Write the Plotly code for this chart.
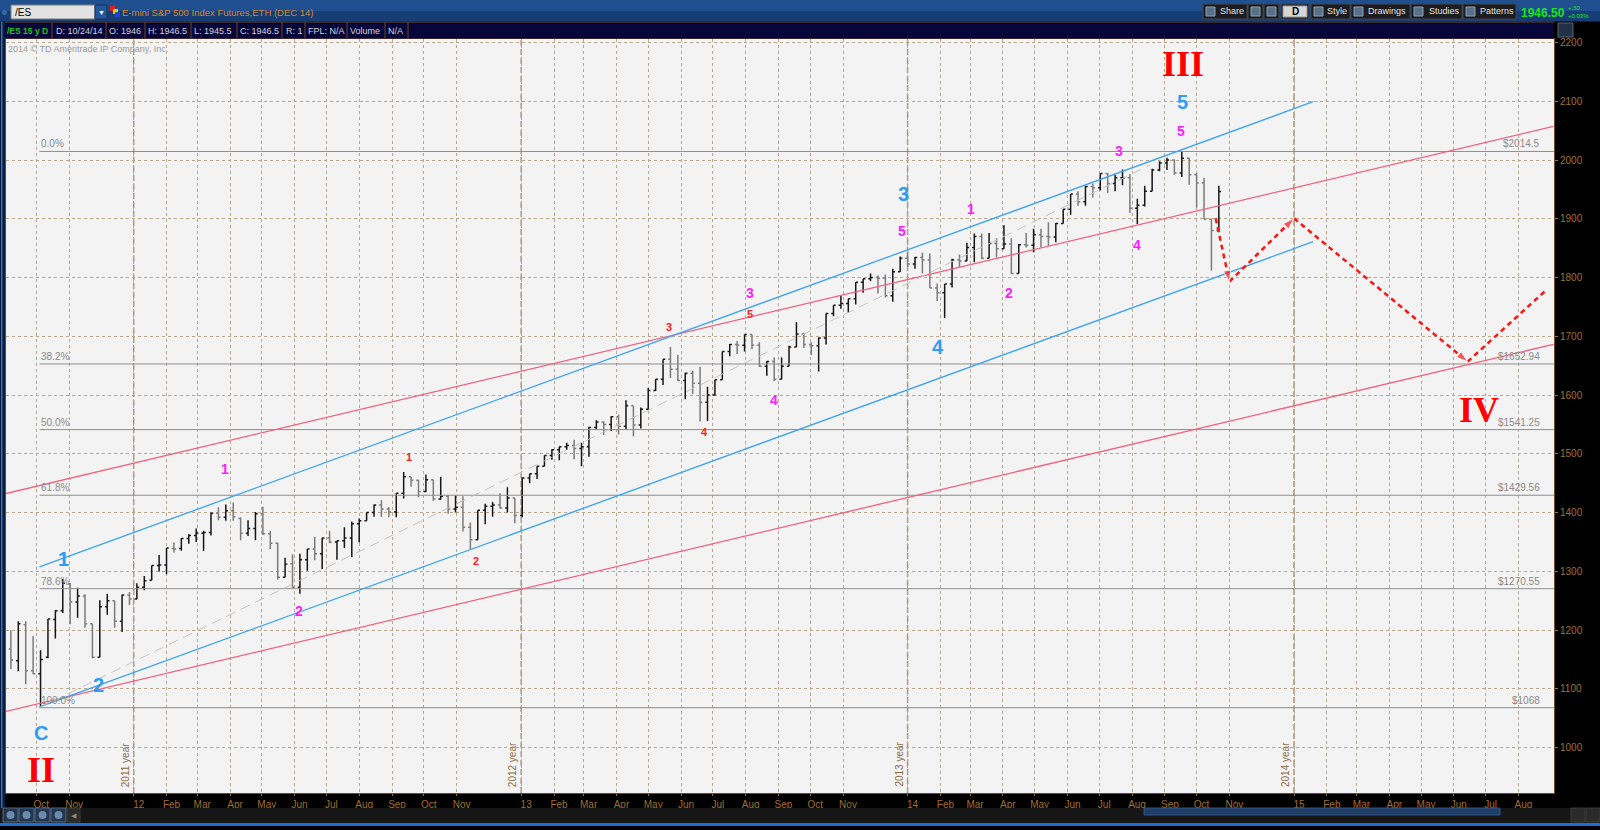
import pandas as pd
import plotly.graph_objects as go

# --- weekly bars (week starting Monday) ---
week_start = pd.date_range("2011-08-29", "2014-10-20", freq="W-MON")

bar_open = [
    1172, 1168, 1148, 1209, 1131, 1126, 1154, 1218, 1233, 1279, 1248, 1258, 1211, 1154, 1240, 1250, 1215, 1260,
    1253, 1273, 1285, 1310, 1311, 1339, 1339, 1356, 1361, 1365, 1366, 1399, 1392, 1403, 1390, 1365, 1373, 1398,
    1364, 1348, 1290, 1313, 1273, 1320, 1338, 1330, 1357, 1350, 1352, 1357, 1381, 1386, 1400, 1413, 1406, 1401,
    1433, 1461, 1455, 1436, 1456, 1423, 1428, 1406, 1409, 1375, 1354, 1404, 1411, 1413, 1408, 1425, 1395,
    1459, 1466, 1479, 1497, 1507, 1512, 1514, 1509, 1512, 1545, 1554, 1550, 1563, 1547, 1582, 1549, 1576,
    1608, 1627, 1661, 1644, 1625, 1637, 1620, 1588, 1600, 1626, 1674, 1686, 1685, 1703, 1685, 1649, 1657,
    1627, 1649, 1682, 1704, 1686, 1684, 1697, 1739, 1753, 1756, 1764, 1792, 1798, 1800, 1799, 1769, 1810, 1833,
    1823, 1834, 1830, 1782, 1774, 1789, 1830, 1828, 1851, 1870, 1833, 1858, 1849, 1857, 1807, 1856, 1855,
    1873, 1870, 1869, 1892, 1916, 1942, 1929, 1955, 1953, 1977, 1960, 1970, 1970, 1918, 1923, 1947, 1983,
    1995, 2000, 1978, 2003, 1975, 1961, 1899, 1880,
]
bar_high = [
    1225, 1200, 1215, 1215, 1190, 1166, 1219, 1234, 1287, 1280, 1272, 1261, 1211, 1251, 1262, 1250, 1260, 1265,
    1280, 1292, 1310, 1328, 1340, 1349, 1357, 1363, 1373, 1369, 1400, 1409, 1414, 1417, 1392, 1387, 1401, 1410,
    1369, 1349, 1323, 1329, 1330, 1338, 1359, 1357, 1369, 1352, 1375, 1385, 1390, 1400, 1414, 1421, 1409, 1433,
    1469, 1461, 1456, 1465, 1456, 1461, 1430, 1429, 1428, 1383, 1404, 1415, 1418, 1433, 1443, 1425, 1460,
    1466, 1479, 1497, 1508, 1512, 1519, 1524, 1519, 1546, 1557, 1555, 1564, 1567, 1591, 1582, 1579, 1612,
    1627, 1661, 1682, 1668, 1638, 1642, 1648, 1614, 1626, 1674, 1687, 1692, 1703, 1703, 1690, 1658, 1664,
    1664, 1684, 1724, 1706, 1690, 1698, 1739, 1753, 1769, 1764, 1792, 1798, 1807, 1804, 1805, 1815, 1836, 1843,
    1835, 1842, 1841, 1790, 1789, 1832, 1839, 1859, 1875, 1875, 1876, 1867, 1889, 1867, 1857, 1876, 1883,
    1883, 1894, 1893, 1916, 1942, 1947, 1956, 1960, 1977, 1978, 1975, 1984, 1976, 1934, 1956, 1985, 1998,
    2004, 2001, 2014.5, 2004, 1978, 1970, 1900, 1956,
]
bar_low = [
    1168, 1134, 1130, 1108, 1125, 1068, 1152, 1186, 1229, 1210, 1221, 1204, 1152, 1154, 1226, 1204, 1197, 1243,
    1253, 1268, 1285, 1300, 1295, 1332, 1335, 1347, 1350, 1335, 1361, 1387, 1386, 1386, 1353, 1360, 1353, 1362,
    1338, 1286, 1290, 1272, 1262, 1301, 1319, 1304, 1348, 1320, 1340, 1324, 1349, 1386, 1393, 1393, 1392, 1392,
    1424, 1444, 1426, 1435, 1420, 1422, 1398, 1400, 1368, 1338, 1354, 1380, 1393, 1407, 1400, 1382, 1392,
    1450, 1457, 1479, 1490, 1489, 1507, 1491, 1479, 1495, 1541, 1532, 1539, 1533, 1542, 1530, 1543, 1575,
    1607, 1617, 1629, 1624, 1593, 1602, 1555, 1556, 1599, 1626, 1666, 1670, 1674, 1678, 1648, 1633, 1624,
    1627, 1649, 1682, 1680, 1668, 1640, 1686, 1734, 1747, 1740, 1754, 1774, 1794, 1773, 1766, 1759, 1810, 1819,
    1815, 1807, 1782, 1760, 1731, 1783, 1818, 1828, 1826, 1831, 1833, 1834, 1849, 1806, 1807, 1851, 1843,
    1851, 1854, 1860, 1892, 1907, 1922, 1922, 1936, 1948, 1944, 1947, 1957, 1910, 1891, 1921, 1947, 1981,
    1983, 1975, 1971, 1958, 1919, 1899, 1812, 1877,
]
bar_close = [
    1168, 1149, 1211, 1131, 1126, 1150, 1219, 1233, 1280, 1248, 1258, 1211, 1154, 1240, 1250, 1215, 1260, 1253,
    1273, 1284, 1310, 1311, 1340, 1338, 1356, 1361, 1365, 1366, 1399, 1392, 1403, 1393, 1365, 1373, 1398, 1364,
    1348, 1290, 1312, 1273, 1320, 1338, 1330, 1357, 1350, 1352, 1357, 1381, 1386, 1400, 1413, 1406, 1401, 1433,
    1461, 1455, 1436, 1456, 1423, 1428, 1406, 1409, 1375, 1354, 1404, 1411, 1413, 1408, 1425, 1395, 1459,
    1466, 1479, 1497, 1507, 1512, 1514, 1509, 1512, 1545, 1554, 1550, 1563, 1547, 1582, 1549, 1576, 1608,
    1627, 1661, 1644, 1625, 1637, 1620, 1588, 1600, 1626, 1674, 1686, 1685, 1703, 1685, 1649, 1657, 1627,
    1649, 1682, 1704, 1686, 1684, 1697, 1739, 1753, 1756, 1764, 1792, 1798, 1800, 1799, 1769, 1810, 1833, 1823,
    1834, 1830, 1782, 1774, 1789, 1830, 1828, 1851, 1870, 1833, 1858, 1849, 1857, 1807, 1856, 1855, 1873,
    1870, 1869, 1892, 1916, 1942, 1929, 1955, 1953, 1977, 1960, 1970, 1970, 1918, 1923, 1947, 1983, 1995,
    2000, 1978, 2003, 1975, 1961, 1899, 1880, 1946.5,
]

# Fibonacci retracement of the 1068 -> 2014.5 move
fib_pct = ["0.0%", "38.2%", "50.0%", "61.8%", "78.6%", "100.0%"]
fib_price = [2014.5, 1652.94, 1541.25, 1429.56, 1270.55, 1068]
fib_start = "2011-10-04"

# trend channels drawn on the chart (two anchor points each)
blue_upper_x, blue_upper_y = ["2011-10-04", "2015-01-19"], [1307.5, 2099.2]
blue_lower_x, blue_lower_y = ["2011-10-04", "2015-01-19"], [1069.3, 1861.0]
red_upper_x, red_upper_y = ["2011-09-02", "2015-09-03"], [1432.4, 2057.3]
red_lower_x, red_lower_y = ["2011-09-02", "2015-09-03"], [1061.6, 1686.4]
gray_x, gray_y = ["2011-10-04", "2014-08-18"], [1068, 1991.5]

# projected wave IV path
proj_x = ["2014-10-19", "2014-11-01", "2015-01-01", "2015-06-14", "2015-09-03"]
proj_y = [1900.8, 1792.9, 1900.8, 1656.8, 1790]

X_RANGE = ["2011-09-02 09:00", "2015-09-03 14:00"]
Y_RANGE = [922.9, 2205.9]

# pixel helpers for the window chrome (plot area is 6..1554 x 39..793)
L, R, T, B = 6, 1554, 39, 793


def px(x):
    return (x - L) / (R - L)


def py(y):
    return (B - y) / (B - T)


SANS = "Liberation Sans, Arial, sans-serif"
BROWN = "#a0702e"

fig = go.Figure()

for p in fib_price:
    fig.add_trace(go.Scatter(x=[fib_start, X_RANGE[1]], y=[p, p], mode="lines",
                             line=dict(color="#8e8e8e", width=1), hoverinfo="skip"))

for xs, ys, col in [(red_upper_x, red_upper_y, "#f2607f"), (red_lower_x, red_lower_y, "#f2607f"),
                    (blue_upper_x, blue_upper_y, "#3ba2f2"), (blue_lower_x, blue_lower_y, "#3ba2f2")]:
    fig.add_trace(go.Scatter(x=xs, y=ys, mode="lines", line=dict(color=col, width=1.3), hoverinfo="skip"))

fig.add_trace(go.Scatter(x=gray_x, y=gray_y, mode="lines",
                         line=dict(color="#c4c4c4", width=1, dash="10px,6px"), hoverinfo="skip"))

fig.add_trace(go.Ohlc(
    x=week_start + pd.Timedelta(days=2),
    open=bar_open, high=bar_high, low=bar_low, close=bar_close,
    increasing=dict(line=dict(color="#161616", width=1.5)),
    decreasing=dict(line=dict(color="#7c7c7c", width=1.5)),
    tickwidth=0.3, hoverinfo="skip",
))

fig.add_trace(go.Scatter(
    x=proj_x, y=proj_y, mode="lines+markers",
    line=dict(color="#ff1414", width=2.5, dash="5px,4px"),
    marker=dict(symbol="arrow", angleref="previous", size=[0, 12, 12, 12, 0], color="#ff1414"),
    hoverinfo="skip",
))

shapes = []
annots = []

# year separators
for yr in [2012, 2013, 2014, 2015]:
    shapes.append(dict(type="line", xref="x", yref="paper", x0=f"{yr}-01-01", x1=f"{yr}-01-01",
                       y0=0, y1=1, line=dict(color="#a8947a", width=1.5, dash="6px,3px"), layer="below"))
    annots.append(dict(xref="x", yref="paper", x=f"{yr}-01-01", y=py(789), text=f"{yr - 1} year",
                       textangle=-90, xanchor="right", yanchor="bottom", xshift=-1, showarrow=False,
                       font=dict(family=SANS, size=10, color="#8c6a44")))

# fib labels
for pct, p in zip(fib_pct, fib_price):
    annots.append(dict(xref="x", yref="y", x=fib_start, y=p, text=pct, xanchor="left", yanchor="bottom",
                       showarrow=False, font=dict(family=SANS, size=10, color="#8a8a8a")))
    annots.append(dict(xref="paper", yref="y", x=px(1542), y=p, text=f"${p:g}", xanchor="right",
                       yanchor="bottom", showarrow=False, font=dict(family=SANS, size=10, color="#8a8a8a")))

# wave labels
wave_labels = [
    ("III", "2014-09-18", 2162.8, "#ff0000", 36, "serif"),
    ("II", "2011-10-05", 961.4, "#ff0000", 36, "serif"),
    ("IV", "2015-06-25", 1574.3, "#ff0000", 36, "serif"),
    ("5", "2014-09-18", 2098.7, "#2e9cf2", 20, "sans"),
    ("3", "2013-12-28", 1942.3, "#2e9cf2", 20, "sans"),
    ("4", "2014-01-30", 1681.8, "#2e9cf2", 20, "sans"),
    ("1", "2011-10-27", 1320.7, "#2e9cf2", 20, "sans"),
    ("2", "2011-11-29", 1107.2, "#2e9cf2", 20, "sans"),
    ("C", "2011-10-05", 1025.5, "#2e9cf2", 20, "sans"),
    ("1", "2012-03-27", 1473.5, "#ff1aff", 14, "sans"),
    ("2", "2012-06-05", 1232.3, "#ff1aff", 14, "sans"),
    ("3", "2013-08-05", 1773.9, "#ff1aff", 14, "sans"),
    ("4", "2013-08-28", 1591.6, "#ff1aff", 14, "sans"),
    ("5", "2013-12-27", 1879.9, "#ff1aff", 14, "sans"),
    ("1", "2014-03-02", 1916.3, "#ff1aff", 14, "sans"),
    ("2", "2014-04-07", 1773.9, "#ff1aff", 14, "sans"),
    ("3", "2014-07-20", 2015.3, "#ff1aff", 14, "sans"),
    ("4", "2014-08-06", 1855.5, "#ff1aff", 14, "sans"),
    ("5", "2014-09-16", 2050.0, "#ff1aff", 14, "sans"),
    ("1", "2012-09-17", 1494.5, "#ff2020", 11, "sans"),
    ("2", "2012-11-19", 1317.3, "#ff2020", 11, "sans"),
    ("3", "2013-05-21", 1716.7, "#ff2020", 11, "sans"),
    ("5", "2013-08-05", 1737.4, "#ff2020", 11, "sans"),
    ("4", "2013-06-23", 1537.9, "#ff2020", 11, "sans"),
]
for txt, xd, yv, col, size, fam in wave_labels:
    family = "Liberation Serif, Times New Roman, serif" if fam == "serif" else SANS
    annots.append(dict(xref="x", yref="y", x=xd, y=yv, text=f"<b>{txt}</b>", showarrow=False,
                       xanchor="center", yanchor="middle", font=dict(family=family, size=size, color=col)))

annots.append(dict(xref="paper", yref="paper", x=px(6), y=py(49), text="2014 © TD Ameritrade IP Company, Inc.",
                   xanchor="left", yanchor="middle", showarrow=False, font=dict(family=SANS, size=9, color="#9a9a9a")))


def box(x0, y0, x1, y1, fill, line=None, lw=1):
    shapes.append(dict(type="rect", xref="paper", yref="paper", x0=px(x0), x1=px(x1), y0=py(y1), y1=py(y0),
                       fillcolor=fill, line=dict(width=lw if line else 0, color=line or fill), layer="above"))


def label(x, y, s, color, size=9, anchor="left", family=SANS):
    annots.append(dict(xref="paper", yref="paper", x=px(x), y=py(y), text=s, xanchor=anchor, yanchor="middle",
                       showarrow=False, font=dict(family=family, size=size, color=color)))


# top title bar
box(0, 0, 1600, 11, "#1f4f8e")
box(0, 11, 1600, 21.5, "#163e74")
shapes.append(dict(type="circle", xref="paper", yref="paper", x0=px(2), x1=px(7), y0=py(15), y1=py(10),
                   fillcolor="#3468a6", line=dict(width=0)))
box(11, 5, 95, 19, "#e2e2e2", "#7a7a7a")
label(13, 12.5, "/ES", "#000000", 10)
box(95, 5, 107, 19, "#24569a", "#10305a")
label(101, 12.5, "▼", "#ffffff", 7, "center")
box(110, 6, 115, 11, "#e02020")
box(113, 9, 118, 14, "#f0d000")
box(115, 12, 120, 17, "#2040e0")
label(120, 12.5, "E-mini S&P 500 Index Futures,ETH (DEC 14)", "#d8862a", 9.5)

buttons = [(1203, 1247, "Share", 1218), (1248, 1263, "", 0), (1264, 1279, "", 0), (1281, 1309, "", 0),
           (1311, 1350, "Style", 1325), (1351, 1410, "Drawings", 1366), (1411, 1462, "Studies", 1427),
           (1463, 1516, "Patterns", 1478)]
for x0, x1, name, tx in buttons:
    box(x0, 4, x1, 19, "#1c1c1e", "#3c4656")
    if name:
        label(tx, 11.5, name, "#e2e2e2", 9)
# small icon glyphs on the buttons
for ix in [1206, 1251, 1267, 1314, 1354, 1414, 1466]:
    box(ix, 7, ix + 9, 16, "#5a6f88", "#8aa0bb")
box(1283, 6, 1307, 17, "#d6d6d6", "#9a9a9a")
label(1295, 11.5, "<b>D</b>", "#000000", 10, "center")
label(1543, 12.5, "<b>1946.50</b>", "#1ee61e", 12, "center")
label(1566, 8, "+.50", "#1ee61e", 6)
label(1566, 15.5, "+0.03%", "#1ee61e", 6)

# info bar
box(5, 21.5, 1554, 38.5, "#06063a")
shapes.append(dict(type="line", xref="paper", yref="paper", x0=px(5), x1=px(1554), y0=py(22), y1=py(22),
                   line=dict(color="#6b4a22", width=1)))
for sx in [52, 106, 145, 191, 237, 282, 305, 347, 385, 408]:
    shapes.append(dict(type="line", xref="paper", yref="paper", x0=px(sx), x1=px(sx), y0=py(38), y1=py(22),
                       line=dict(color="#6b4a22", width=1)))
label(5, 31, "<b>/ES 15 y D</b>", "#22c422", 8.5)
for x0, s in [(54, "D: 10/24/14"), (107, "O: 1946"), (146, "H: 1946.5"), (192, "L: 1945.5"),
              (238, "C: 1946.5"), (284, "R: 1"), (306, "FPL: N/A"), (348, "Volume"), (386, "N/A")]:
    label(x0, 31, s, "#d4d4d4", 9)
box(1558, 23, 1573, 37, "#223246", "#56657a")

# left border, bottom toolbar
box(0, 21.5, 5, 826, "#0b1d3d")
box(1, 21.5, 2.5, 826, "#2f6fc0")
box(0, 808, 1600, 823, "#161616")
for x0 in [3, 19, 35, 51]:
    box(x0, 808, x0 + 15, 822, "#25364c", "#4d6d90")
    shapes.append(dict(type="circle", xref="paper", yref="paper", x0=px(x0 + 3.5), x1=px(x0 + 11.5),
                       y0=py(819), y1=py(811), fillcolor="#6a8cb0", line=dict(width=0)))
box(67, 808, 80, 822, "#2a2a2a", "#3a3a3a")
label(73.5, 815, "◀", "#8a8a8a", 7, "center")
box(1144, 808, 1500, 815, "#213e66", "#2c5286")
box(1571, 808, 1585, 822, "#2a2a2a", "#3a3a3a")
box(1586, 808, 1600, 822, "#2a2a2a", "#3a3a3a")
box(0, 823, 1600, 826, "#1a6fd0")

# month ticks, Decembers are skipped on this chart
months = [m for m in pd.date_range("2011-10-01", "2015-08-01", freq="MS") if m.month != 12]
month_text = [m.strftime("%y") if m.month == 1 else m.strftime("%b") for m in months]

fig.update_layout(
    width=1600, height=830,
    margin=dict(l=L, r=1600 - R, t=T, b=830 - B),
    paper_bgcolor="#000000", plot_bgcolor="#f3f3f3",
    showlegend=False, hovermode=False,
    shapes=shapes, annotations=annots,
    xaxis=dict(type="date", range=X_RANGE, rangeslider=dict(visible=False),
               tickvals=months, ticktext=month_text, ticks="outside", ticklen=2, tickcolor=BROWN,
               tickfont=dict(family=SANS, size=10, color=BROWN), ticklabelshift=5,
               showgrid=True, gridcolor="#b9a78d", griddash="dot", gridwidth=1,
               showline=True, linecolor="#6b4a22", mirror=True, zeroline=False),
    yaxis=dict(side="right", range=Y_RANGE, tickvals=list(range(1000, 2201, 100)),
               ticks="outside", ticklen=3, tickcolor=BROWN,
               tickfont=dict(family=SANS, size=10, color=BROWN),
               showgrid=True, gridcolor="#b9a78d", griddash="dot", gridwidth=1,
               showline=True, linecolor="#6b4a22", mirror=True, zeroline=False),
)

# page body has a default 8px margin; drop it so the figure fills the window like the screenshot
fig.write_html("out.html", config={"displayModeBar": False},
               post_script="document.body.style.margin='0px';document.body.style.overflow='hidden';")
